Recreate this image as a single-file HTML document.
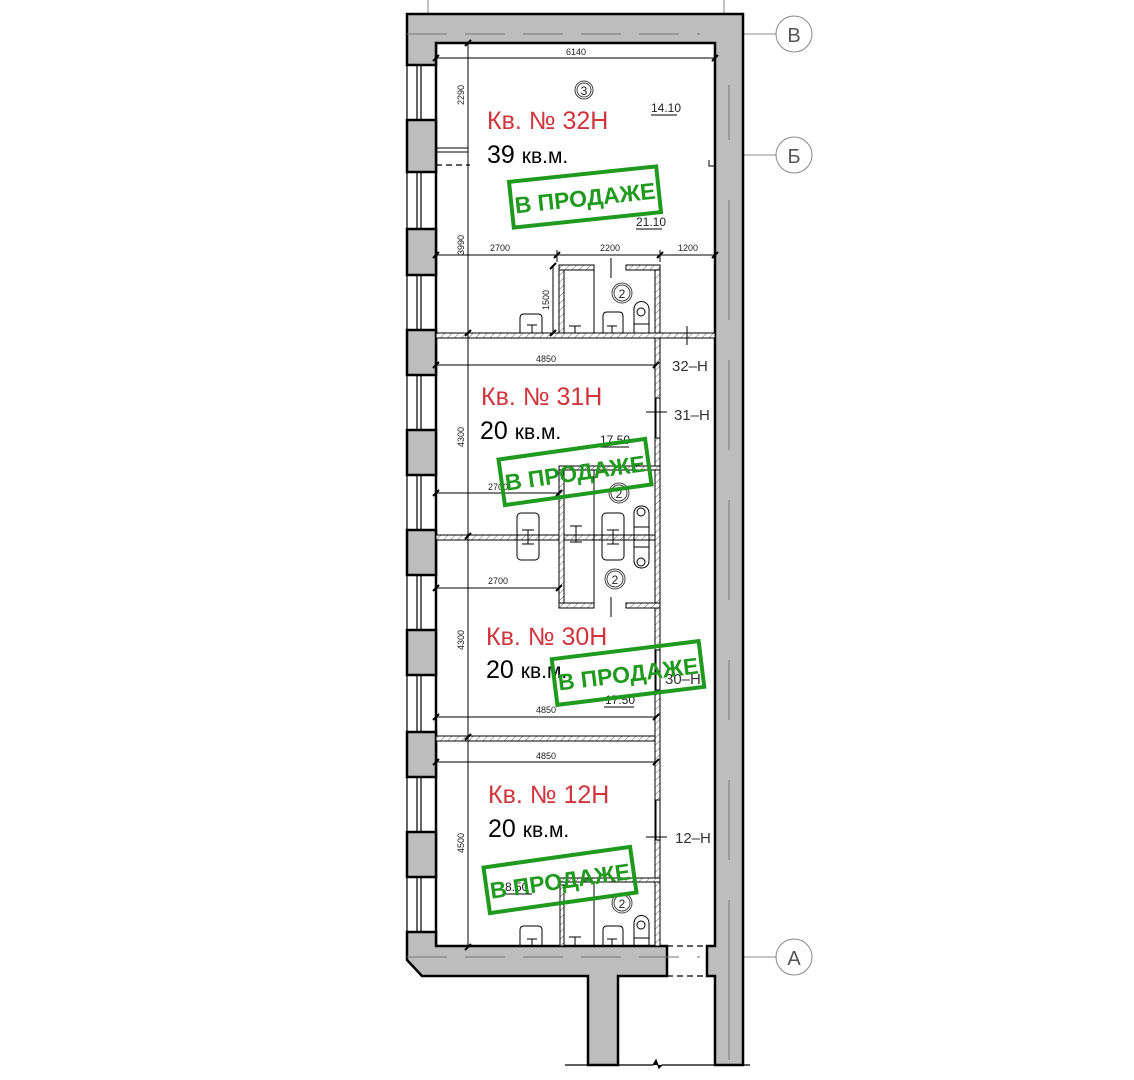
<!DOCTYPE html>
<html><head><meta charset="utf-8"><style>
html,body{margin:0;padding:0;background:#fff;width:1134px;height:1080px;overflow:hidden}
svg{display:block}
.t{font-family:"Liberation Sans",sans-serif}
.red{fill:#d0343c;font-size:25px}
.blk{fill:#000}
.dim{font-family:"Liberation Sans",sans-serif;font-size:9px;fill:#222}
.st{font-family:"Liberation Sans",sans-serif;font-weight:bold;font-size:23px;fill:#1f9a1f}
</style></head><body>
<svg width="1134" height="1080" viewBox="0 0 1134 1080" xmlns="http://www.w3.org/2000/svg">
<defs>
<pattern id="h" width="5" height="5" patternUnits="userSpaceOnUse" patternTransform="rotate(45)">
<rect width="5" height="5" fill="#fff"/><line x1="0" y1="0" x2="0" y2="5" stroke="#666" stroke-width="1"/></pattern>
</defs>
<g stroke="#888" fill="none" stroke-width="1">
<line x1="743" y1="34" x2="776" y2="34"/><circle cx="794" cy="34" r="18"/>
<line x1="743" y1="155" x2="776" y2="155"/><circle cx="794" cy="155" r="18"/>
<line x1="743" y1="957" x2="776" y2="957"/><circle cx="794" cy="957" r="18"/>
<line x1="428" y1="0" x2="428" y2="14"/><line x1="724" y1="0" x2="724" y2="14"/>
</g>
<g class="t" fill="#555" font-size="20" text-anchor="middle">
<text x="794" y="42">В</text><text x="794" y="163">Б</text><text x="794" y="965">А</text>
</g>
<g stroke="#000" stroke-width="1.2">
<line x1="407" y1="14" x2="407" y2="960"/><line x1="417" y1="65" x2="417" y2="932"/><line x1="421" y1="65" x2="421" y2="932"/>
</g>
<line x1="436" y1="43" x2="436" y2="946" stroke="#000" stroke-width="2.5"/>
<g fill="#bdbdbd" stroke="#000" stroke-width="2.5">
<path d="M407,14 H743 V1065 H715 V976 H707 V946 H715 V43 H436 V65 H407 Z"/>
<rect x="407" y="120" width="29" height="52"/>
<rect x="407" y="229" width="29" height="46"/>
<rect x="407" y="330" width="29" height="45"/>
<rect x="407" y="430" width="29" height="45"/>
<rect x="407" y="530" width="29" height="45"/>
<rect x="407" y="630" width="29" height="45"/>
<rect x="407" y="732" width="29" height="45"/>
<rect x="407" y="832" width="29" height="45"/>
<path d="M407,932 H436 V946 H667 V976 H618 V1065 H588 V976 H422 L407,960 Z"/>
</g>
<g stroke="#000" stroke-width="1.2" stroke-dasharray="6,4"><line x1="667" y1="946" x2="707" y2="946"/><line x1="667" y1="976" x2="707" y2="976"/>
<line x1="436" y1="165" x2="470" y2="165"/></g>
<g stroke="#000" stroke-width="1.2"><path d="M565,1065 H653 l3,-5 l3,8 l3,-3 H750"/></g>
<g stroke="#777" stroke-width="1"><line x1="729" y1="85" x2="729" y2="140"/><line x1="729" y1="200" x2="729" y2="320"/><line x1="729" y1="360" x2="729" y2="450"/><line x1="729" y1="500" x2="729" y2="600"/><line x1="729" y1="660" x2="729" y2="720"/><line x1="729" y1="780" x2="729" y2="860"/><line x1="729" y1="900" x2="729" y2="1060"/>
<line x1="407" y1="34" x2="700" y2="34" stroke-dasharray="40,18"/>
<line x1="407" y1="957" x2="700" y2="957" stroke-dasharray="40,18"/></g>
<g fill="url(#h)" stroke="#000" stroke-width="1">
<rect x="436" y="333" width="279" height="5"/>
<rect x="436" y="535" width="224" height="5"/>
<rect x="436" y="736" width="224" height="5"/>
<rect x="655" y="338" width="5" height="608"/>
<rect x="559" y="265" width="5" height="68"/><rect x="655" y="265" width="5" height="68"/>
<rect x="559" y="265" width="35" height="5"/><rect x="626" y="265" width="34" height="5"/>
<rect x="559" y="466" width="5" height="141"/><rect x="559" y="466" width="101" height="4"/>
<rect x="559" y="603" width="35" height="5"/><rect x="626" y="603" width="34" height="5"/>
<rect x="560" y="878" width="100" height="4"/><rect x="560" y="885" width="4" height="61"/>
</g>
<g fill="#fff" stroke="#000" stroke-width="1"><rect x="656" y="398" width="4" height="40"/><rect x="656" y="800" width="4" height="40"/><rect x="656" y="650" width="4" height="40"/></g>
<g stroke="#000" stroke-width="1" fill="none">
<line x1="594" y1="270" x2="594" y2="333"/><line x1="594" y1="470" x2="594" y2="603"/><line x1="594" y1="882" x2="594" y2="946"/>
<line x1="468" y1="43" x2="468" y2="946"/>
<line x1="436" y1="148" x2="468" y2="148"/><line x1="436" y1="152" x2="468" y2="152"/>
<line x1="436" y1="58" x2="715" y2="58"/>
<line x1="436" y1="255" x2="715" y2="255"/><line x1="557" y1="250" x2="557" y2="262"/><line x1="660" y1="250" x2="660" y2="262"/>
<line x1="553" y1="265" x2="553" y2="333"/>
<line x1="436" y1="365" x2="656" y2="365"/>
<line x1="436" y1="493" x2="559" y2="493"/>
<line x1="436" y1="588" x2="559" y2="588"/>
<line x1="436" y1="717" x2="656" y2="717"/>
<line x1="436" y1="762" x2="656" y2="762"/>
<line x1="611" y1="258" x2="611" y2="278"/><line x1="611" y1="597" x2="611" y2="617"/>
<line x1="687" y1="326" x2="687" y2="345"/><line x1="646" y1="412" x2="667" y2="412"/><line x1="646" y1="837" x2="667" y2="837"/>
<line x1="651" y1="115" x2="677" y2="115"/><line x1="636" y1="229" x2="662" y2="229"/><line x1="600" y1="447" x2="629" y2="447"/><line x1="604" y1="707" x2="634" y2="707"/><line x1="503" y1="894" x2="532" y2="894"/>
<path d="M709,160 V166 H715"/>
<path d="M520,333 V318 q0,-4 4,-4 h14 q4,0 4,4 V333"/><path d="M527,325 h10 M532,325 v8"/>
<path d="M569,326 h12 M575,326 v7"/>
<path d="M603,333 V316 q0,-4 4,-4 h12 q4,0 4,4 V333"/><path d="M607,326 h10 M612,326 v7"/>
<path d="M634,333 V309 a7,7 0 0 1 15,0 V333 M634,324 h15"/><circle cx="641" cy="312" r="4"/>
<rect x="517" y="513" width="22" height="47" rx="4"/><path d="M522,530 h12 M528,530 v14 M522,544 h12"/>
<path d="M570,526 h12 M576,526 v16 M570,542 h12"/>
<rect x="602" y="513" width="22" height="47" rx="4"/><path d="M607,530 h12 M613,530 v14 M607,544 h12"/>
<rect x="634" y="506" width="15" height="62" rx="7"/><path d="M634,527 h15 M634,547 h15"/><circle cx="641" cy="512" r="4"/><circle cx="641" cy="562" r="4"/>
<path d="M520,946 V930 q0,-4 4,-4 h14 q4,0 4,4 V946"/><path d="M527,939 h10 M532,939 v7"/>
<path d="M569,937 h12 M575,937 v9"/>
<path d="M603,946 V930 q0,-4 4,-4 h12 q4,0 4,4 V946"/><path d="M607,939 h10 M612,939 v7"/>
<path d="M634,946 V923 a7,7 0 0 1 15,0 V946 M634,938 h15"/><circle cx="641" cy="925" r="4"/>
</g>
<g stroke="#000" stroke-width="2">
<path d="M433,61 l6,-6 M712,61 l6,-6 M433,258 l6,-6 M554,258 l6,-6 M657,258 l6,-6 M712,258 l6,-6 M550,269 l6,-6 M550,336 l6,-6 M465,46 l6,-6 M465,336 l6,-6 M433,368 l6,-6 M653,368 l6,-6 M433,496 l6,-6 M556,496 l6,-6 M433,591 l6,-6 M556,591 l6,-6 M433,720 l6,-6 M653,720 l6,-6 M433,765 l6,-6 M653,765 l6,-6 M465,539 l6,-6 M465,740 l6,-6 M465,950 l6,-6"/>
</g>
<g fill="none" stroke="#444"><circle cx="584" cy="90" r="9"/><circle cx="584" cy="90" r="7"/><circle cx="622" cy="293" r="10"/><circle cx="622" cy="293" r="8"/><circle cx="619" cy="493" r="10"/><circle cx="619" cy="493" r="8"/><circle cx="615" cy="579" r="10"/><circle cx="615" cy="579" r="8"/><circle cx="622" cy="903" r="10"/><circle cx="622" cy="903" r="8"/></g>
<g class="t" font-size="12" text-anchor="middle" fill="#222"><text x="584" y="95">3</text><text x="622" y="298">2</text><text x="619" y="498">2</text><text x="615" y="584">2</text><text x="622" y="908">2</text></g>
<g class="dim" text-anchor="middle">
<text x="576" y="55">6140</text><text x="500" y="251">2700</text><text x="610" y="251">2200</text><text x="688" y="251">1200</text>
<text x="546" y="362">4850</text><text x="498" y="490">2700</text><text x="498" y="584">2700</text><text x="546" y="713">4850</text><text x="546" y="759">4850</text>
<text transform="translate(464,95) rotate(-90)">2290</text><text transform="translate(464,245) rotate(-90)">3990</text><text transform="translate(549,300) rotate(-90)">1500</text>
<text transform="translate(464,437) rotate(-90)">4300</text><text transform="translate(464,640) rotate(-90)">4300</text><text transform="translate(464,843) rotate(-90)">4500</text>
</g>
<g class="t" font-size="12" fill="#222"><text x="651" y="112">14.10</text><text x="636" y="226">21.10</text><text x="600" y="444">17.50</text><text x="605" y="704">17.50</text><text x="505" y="891">8.50</text></g>
<g class="t" font-size="15" fill="#333"><text x="672" y="371">32–Н</text><text x="674" y="420">31–Н</text><text x="665" y="684">30–Н</text><text x="675" y="843">12–Н</text></g>
<g class="t">
<text x="487" y="129" class="red">Кв. № 32Н</text><text x="487" y="163" font-size="25">39 <tspan font-size="21">кв.м.</tspan></text>
<text x="481" y="405" class="red">Кв. № 31Н</text><text x="480" y="439" font-size="25">20 <tspan font-size="21">кв.м.</tspan></text>
<text x="486" y="645" class="red">Кв. № 30Н</text><text x="486" y="678" font-size="25">20 <tspan font-size="21">кв.м.</tspan></text>
<text x="488" y="803" class="red">Кв. № 12Н</text><text x="488" y="837" font-size="25">20 <tspan font-size="21">кв.м.</tspan></text>
</g>
<g transform="translate(585,197) rotate(-6)"><rect x="-74" y="-23" width="148" height="46" fill="none" stroke="#1f9a1f" stroke-width="4"/><text class="st" x="0" y="9" text-anchor="middle">В ПРОДАЖЕ</text></g>
<g transform="translate(575,472) rotate(-8)"><rect x="-74" y="-23" width="148" height="46" fill="none" stroke="#1f9a1f" stroke-width="4"/><text class="st" x="0" y="9" text-anchor="middle">В ПРОДАЖЕ</text></g>
<g transform="translate(628,673) rotate(-7)"><rect x="-74" y="-23" width="148" height="46" fill="none" stroke="#1f9a1f" stroke-width="4"/><text class="st" x="0" y="9" text-anchor="middle">В ПРОДАЖЕ</text></g>
<g transform="translate(560,880) rotate(-8)"><rect x="-74" y="-23" width="148" height="46" fill="none" stroke="#1f9a1f" stroke-width="4"/><text class="st" x="0" y="9" text-anchor="middle">В ПРОДАЖЕ</text></g>
</svg>
</body></html>
